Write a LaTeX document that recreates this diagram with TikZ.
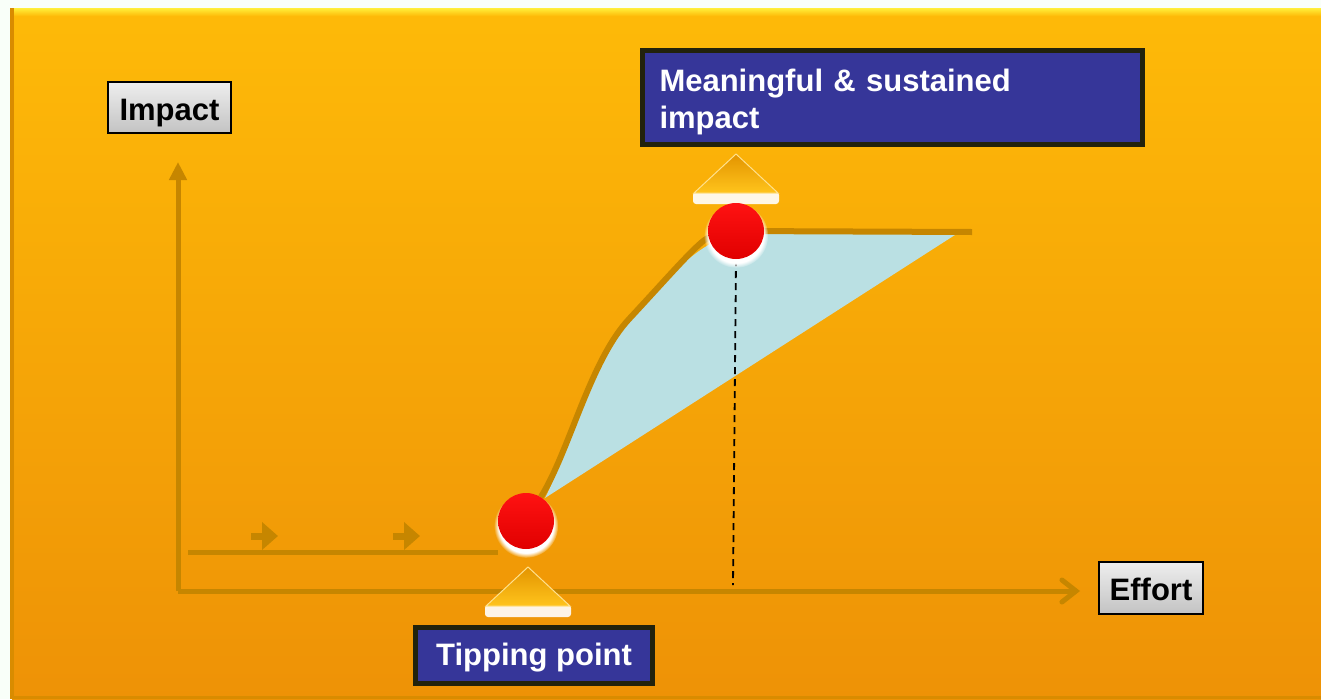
\documentclass[tikz,border=0pt]{standalone}
\usepackage{fontspec}
\setmainfont{Liberation Sans}
\usepackage{xcolor}
\usepackage{tikz}
\usetikzlibrary{positioning, arrows.meta, shadows}
\definecolor{pantop}{HTML}{FEBA08}
\definecolor{panbot}{HTML}{EE9206}
\definecolor{panglow}{HTML}{FFF03A}
\definecolor{panedge}{HTML}{D98C00}
\definecolor{axisgold}{HTML}{C68600}
\definecolor{labelblue}{HTML}{363699}
\definecolor{labelrim}{HTML}{22220C}
\definecolor{gapblue}{HTML}{BAE0E3}
\definecolor{keytop}{HTML}{EEEEEE}
\definecolor{keybot}{HTML}{C3C3C3}
\definecolor{balltop}{HTML}{FF1212}
\definecolor{ballbot}{HTML}{E00000}
\definecolor{wedgetop}{HTML}{E39400}
\definecolor{wedgebot}{HTML}{FFC41C}

\pgfdeclarelayer{panel}
\pgfdeclarelayer{lines}
\pgfsetlayers{panel,lines,main}

\tikzset{
  axislabel/.style={draw=black, line width=2pt, top color=keytop, bottom color=keybot,
    font=\fontsize{31}{37}\selectfont\bfseries, inner sep=0pt, text height=31pt, text depth=6pt},
  stagelabel/.style={draw=labelrim, line width=5pt, fill=labelblue, text=white,
    font=\fontsize{31}{37}\selectfont\bfseries},
  redball/.style={circle, inner sep=0pt, minimum size=56pt, top color=balltop, bottom color=ballbot,
    circular drop shadow={shadow xshift=0pt, shadow yshift=-4pt, shadow scale=1.15, fill=white, opacity=1}},
  trend/.style={draw=axisgold, line width=6pt},
  axisline/.style={draw=axisgold, line width=5pt},
}

\begin{document}
\begin{tikzpicture}[x=1pt, y=-1pt]
  \useasboundingbox (0,0) rectangle (1321,699);

  % labels and markers
  \node[axislabel, minimum width=123pt, minimum height=51pt] (impactkey) at (169.5,107.5) {Impact};
  \node[axislabel, minimum width=104pt, minimum height=52pt] (effortkey) at (1151,588) {Effort};
  \node[stagelabel, minimum width=237pt, minimum height=56pt, inner sep=0pt,
        text height=25pt, text depth=6pt] (tipkey) at (534,655.5) {Tipping point};
  \node[stagelabel, text width=466pt, align=left, inner xsep=17pt, minimum height=94pt] (peakkey) at (892.5,97.5)
    {\rule{0pt}{32pt}Meaningful \& sustained\\impact};

  \foreach \cx/\ty in {736/154, 528/567}{
    \fill[white, opacity=.9, rounded corners=3pt] (\cx-43,\ty+38) rectangle (\cx+43,\ty+50);
    \shade[top color=wedgetop, bottom color=wedgebot, draw=wedgebot!50!white, line width=1pt]
      (\cx,\ty) -- (\cx+42,\ty+39) -- (\cx-42,\ty+39) -- cycle;
  }

  \node[redball] (tip) at (526,521) {};
  \node[redball] (peak) at (736,231) {};

  \coordinate (origin) at (178,591);
  \coordinate (yend) at (178,162);
  \coordinate (xend) at (1080,591);
  \coordinate (flatstart) at (188,552);
  \coordinate (plateau) at (972,232);
  \coordinate (dropfoot) at (733,585);

  \begin{pgfonlayer}{panel}
    \fill[white!94!green!40!white] (0,0) rectangle (1321,699);
    \shade[top color=pantop, bottom color=panbot] (12,8) rectangle (1321,699);
    \shade[top color=panglow, bottom color=pantop] (12,8) rectangle (1321,16);
    \fill[panedge] (10,8) rectangle (14,699);
    \fill[panedge] (10,696) rectangle (1321,699);
  \end{pgfonlayer}

  \begin{pgfonlayer}{lines}
    \fill[gapblue] (545,498) .. controls (570,450) and (590,360) .. (630,318)
      .. controls (670,275) and (700,240) .. (740,233) -- (958,233) -- cycle;
    \draw[trend] (tip) .. controls (570,450) and (590,360) .. (630,318)
      .. controls (670,275) and (700,240) .. (peak) -- (plateau);
    \draw[axisline] (flatstart) -- (flatstart -| tip.west);
    \foreach \ax in {251,393}
      \draw[axisgold, line width=7pt, -{Triangle[length=16pt, width=27pt]}] (\ax,536) -- (\ax+27,536);
    \draw[axisline, -{Triangle[length=18pt, width=17pt]}] (origin) -- (yend);
    \draw[axisline, -{Straight Barb[length=14pt, width=22pt, line cap=round]}] (origin) -- (xend);
    \draw[black, line width=1.8pt, dash pattern=on 7pt off 5pt] (peak.south) -- (dropfoot);
  \end{pgfonlayer}
\end{tikzpicture}
\end{document}
